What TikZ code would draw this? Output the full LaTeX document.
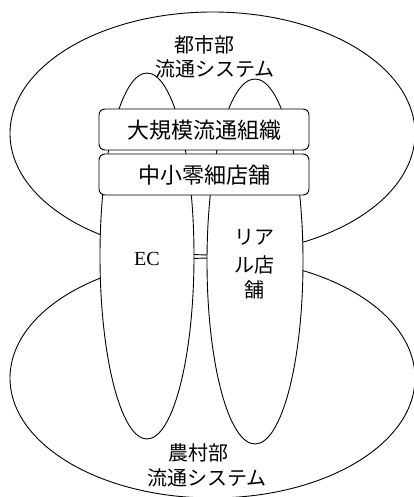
\documentclass[tikz,border=0pt]{standalone}
\usepackage{fontspec}
\setmainfont{Liberation Serif}
\newfontfamily\cjk{Noto Sans CJK JP}
\begin{document}
\begin{tikzpicture}[x=1pt,y=-1pt,line width=0.9pt,
  region/.style={draw=black},
  lobe/.style={draw=black,fill=white},
  layer/.style={draw=black,fill=white,rounded corners=6pt},
  lbl/.style={inner sep=0pt,font=\cjk\fontsize{20}{20}\selectfont},
  boxlbl/.style={inner sep=0pt,font=\cjk\fontsize{22}{22}\selectfont}]
\useasboundingbox (0,0) rectangle (414,497);
\clip (0,0) rectangle (414,497);
% big regions
\draw[region] (212.5,133.5) ellipse [x radius=202.5, y radius=121.5];
\draw[region] (212.5,378) ellipse [x radius=202.5, y radius=120];
% long channels
\draw[lobe] (147,256) ellipse [x radius=47, y radius=183];
\draw[lobe] (255,261.5) ellipse [x radius=48, y radius=182.5];
% layers
\draw[layer] (99,109) rectangle (309,150);
\draw[layer] (99,154) rectangle (309,195);
% labels
\node[lbl] (city1) at (204,45) {都市部};
\node[lbl] (city2) at (215,69) {流通システム};
\node[boxlbl] (big) at (204,130) {大規模流通組織};
\node[boxlbl] (small) at (204,175) {中小零細店舗};
\node[inner sep=0pt,font=\fontsize{20}{20}\selectfont] (ec) at (147,259) {EC};
\node[lbl] (real1) at (254,237) {リア};
\node[lbl] (real2) at (254,265) {ル店};
\node[lbl] (real3) at (254,290) {舗};
\node[lbl] (rural1) at (198,453) {農村部};
\node[lbl] (rural2) at (207,478) {流通システム};
\end{tikzpicture}
\end{document}
